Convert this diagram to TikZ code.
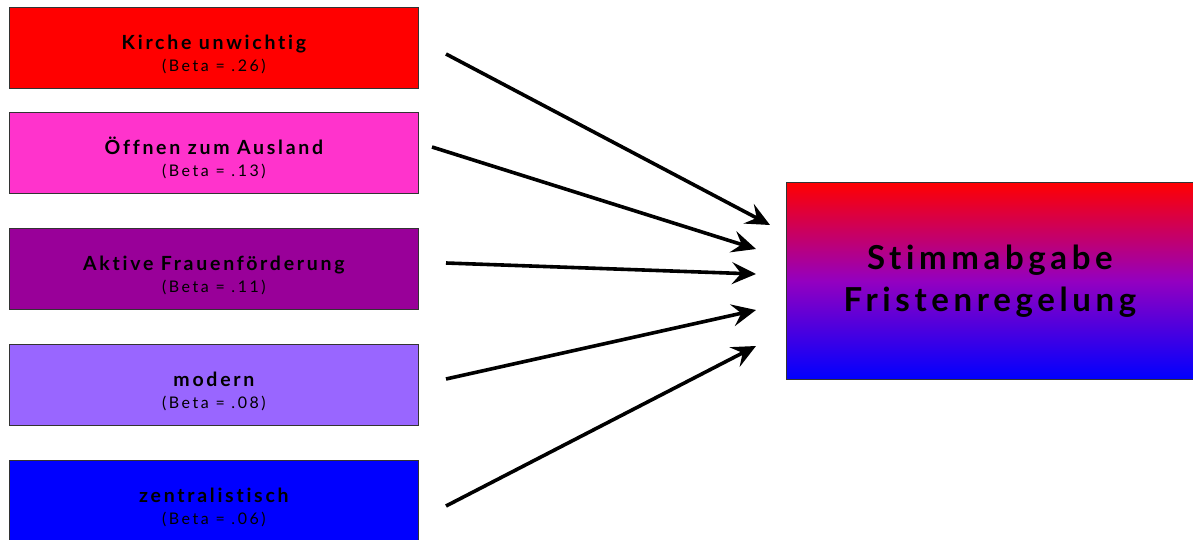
\documentclass[tikz,border=0pt]{standalone}
\usepackage{fontspec}
\setmainfont{Lato}[LetterSpace=14,Ligatures={NoCommon}]
\newfontfamily\betafont{Lato}[LetterSpace=16,Ligatures={NoCommon}]
\usetikzlibrary{arrows.meta}
\definecolor{cA}{HTML}{FF0000}
\definecolor{cB}{HTML}{FF33CC}
\definecolor{cC}{HTML}{990099}
\definecolor{cD}{HTML}{9966FF}
\definecolor{cE}{HTML}{0000FF}
\definecolor{cMid}{HTML}{9400C0}
\newcommand{\fttl}[1]{{\rule{0pt}{27pt}\fontsize{19.5pt}{22pt}\selectfont\bfseries #1}}
\newcommand{\fbeta}[1]{{\betafont\fontsize{16pt}{22pt}\selectfont #1}}
\begin{document}
\begin{tikzpicture}[x=1pt,y=-1pt,
  factor/.style={draw=black!80,line width=0.8pt,minimum width=409pt,minimum height=81pt,inner sep=0pt,anchor=north west,align=center,font=\fontsize{15pt}{22pt}\selectfont},
  conn/.style={line width=3.6pt,-{Stealth[length=24pt,width=22pt,inset=9pt]}}]
\useasboundingbox (0,0) rectangle (1193,540);
\node[factor,fill=cA] (f1) at (9,7) {\fttl{Kirche unwichtig}\\\fbeta{(Beta = .26)}};
\node[factor,fill=cB] (f2) at (9,112) {\fttl{Öffnen zum Ausland}\\\fbeta{(Beta = .13)}};
\node[factor,fill=cC] (f3) at (9,228) {\fttl{Aktive Frauenförderung}\\\fbeta{(Beta = .11)}};
\node[factor,fill=cD] (f4) at (9,344) {\fttl{modern}\\\fbeta{(Beta = .08)}};
\node[factor,fill=cE,minimum height=82pt] (f5) at (9,460) {\fttl{zentralistisch}\\\fbeta{(Beta = .06)}};
\node[draw=black!80,line width=0.8pt,minimum width=407pt,minimum height=197pt,anchor=north west,inner sep=0pt,
  top color=cA,bottom color=cE,middle color=cMid,align=center,font=\fontsize{33pt}{42pt}\selectfont\bfseries] (t) at (786,182) {Stimmabgabe\\Fristenregelung};
\coordinate (s1) at (446,54);  \coordinate (e1) at (770,225);
\coordinate (s2) at (432,147); \coordinate (e2) at (756,249);
\coordinate (s3) at (446,263); \coordinate (e3) at (756,274);
\coordinate (s4) at (446,379); \coordinate (e4) at (756,310);
\coordinate (s5) at (446,506); \coordinate (e5) at (756,346);
\foreach \i in {1,...,5} {\draw[conn] (s\i) -- (e\i);}
\end{tikzpicture}
\end{document}
